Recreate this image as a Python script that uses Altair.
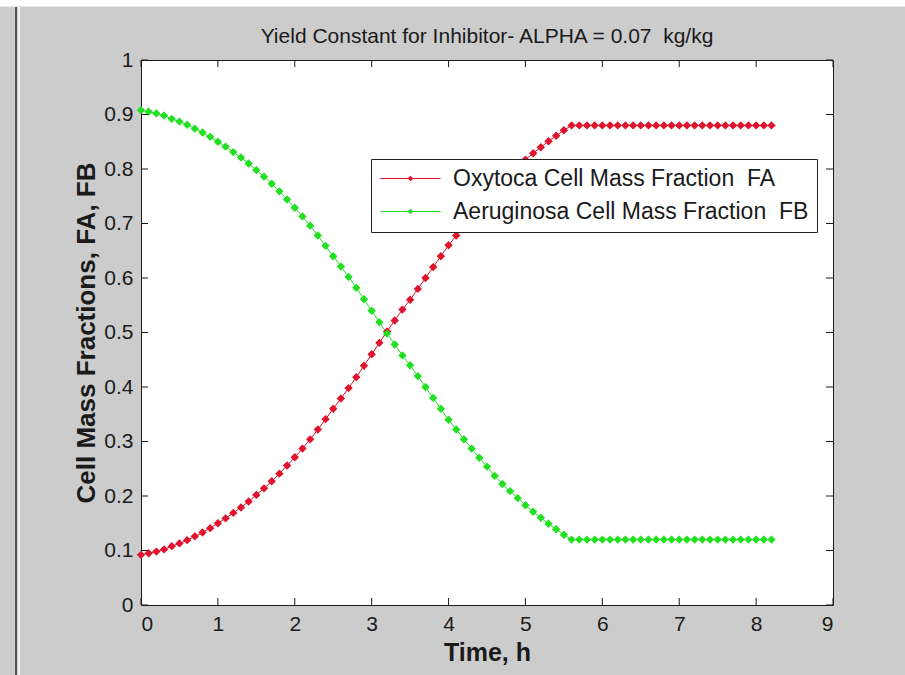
import altair as alt
import pandas as pd

# Time grid (h)
time_h = [
    0.0, 0.1, 0.2, 0.3, 0.4, 0.5, 0.6, 0.7, 0.8, 0.9,
    1.0, 1.1, 1.2, 1.3, 1.4, 1.5, 1.6, 1.7, 1.8, 1.9,
    2.0, 2.1, 2.2, 2.3, 2.4, 2.5, 2.6, 2.7, 2.8, 2.9,
    3.0, 3.1, 3.2, 3.3, 3.4, 3.5, 3.6, 3.7, 3.8, 3.9,
    4.0, 4.1, 4.2, 4.3, 4.4, 4.5, 4.6, 4.7, 4.8, 4.9,
    5.0, 5.1, 5.2, 5.3, 5.4, 5.5, 5.6, 5.7, 5.8, 5.9,
    6.0, 6.1, 6.2, 6.3, 6.4, 6.5, 6.6, 6.7, 6.8, 6.9,
    7.0, 7.1, 7.2, 7.3, 7.4, 7.5, 7.6, 7.7, 7.8, 7.9,
    8.0, 8.1, 8.2,
]

# Oxytoca cell mass fraction FA
fa_oxytoca = [
    0.092, 0.095, 0.098, 0.102, 0.108, 0.113, 0.119, 0.126, 0.133, 0.141,
    0.150, 0.159, 0.169, 0.179, 0.190, 0.202, 0.214, 0.227, 0.241, 0.256,
    0.271, 0.287, 0.304, 0.322, 0.341, 0.360, 0.379, 0.398, 0.418, 0.439,
    0.460, 0.481, 0.502, 0.522, 0.542, 0.560, 0.580, 0.600, 0.620, 0.640,
    0.660, 0.678, 0.696, 0.713, 0.730, 0.746, 0.763, 0.778, 0.791, 0.804,
    0.817, 0.829, 0.840, 0.851, 0.861, 0.871, 0.880, 0.880, 0.880, 0.880,
    0.880, 0.880, 0.880, 0.880, 0.880, 0.880, 0.880, 0.880, 0.880, 0.880,
    0.880, 0.880, 0.880, 0.880, 0.880, 0.880, 0.880, 0.880, 0.880, 0.880,
    0.880, 0.880, 0.880,
]

# Aeruginosa cell mass fraction FB
fb_aeruginosa = [
    0.908, 0.905, 0.902, 0.898, 0.892, 0.887, 0.881, 0.874, 0.867, 0.859,
    0.850, 0.841, 0.831, 0.821, 0.810, 0.798, 0.786, 0.773, 0.759, 0.744,
    0.729, 0.713, 0.696, 0.678, 0.659, 0.640, 0.621, 0.602, 0.582, 0.561,
    0.540, 0.519, 0.498, 0.478, 0.458, 0.440, 0.420, 0.400, 0.380, 0.360,
    0.340, 0.322, 0.304, 0.287, 0.270, 0.254, 0.237, 0.222, 0.209, 0.196,
    0.183, 0.171, 0.160, 0.149, 0.139, 0.129, 0.120, 0.120, 0.120, 0.120,
    0.120, 0.120, 0.120, 0.120, 0.120, 0.120, 0.120, 0.120, 0.120, 0.120,
    0.120, 0.120, 0.120, 0.120, 0.120, 0.120, 0.120, 0.120, 0.120, 0.120,
    0.120, 0.120, 0.120,
]

x_ticks = [0, 1, 2, 3, 4, 5, 6, 7, 8, 9]
y_ticks = [0, 0.1, 0.2, 0.3, 0.4, 0.5, 0.6, 0.7, 0.8, 0.9, 1]

series_names = [
    "Oxytoca Cell Mass Fraction\u00a0 FA",
    "Aeruginosa Cell Mass Fraction\u00a0 FB",
]
series_colors = ["#e0122c", "#20e020"]
plot_title = "Yield Constant for Inhibitor- ALPHA = 0.07\u00a0 kg/kg"

FONT = "Liberation Sans"
INK = "#1a1a1a"
W, H = 692, 545
TICK = 7

n = len(time_h)
df = pd.DataFrame({
    "t": time_h + time_h,
    "f": fa_oxytoca + fb_aeruginosa,
    "series": [series_names[0]] * n + [series_names[1]] * n,
})

x_scale = alt.Scale(domain=[0, 9], nice=False, zero=False)
y_scale = alt.Scale(domain=[0, 1], nice=False, zero=False)
color_scale = alt.Scale(domain=series_names, range=series_colors)

x_axis = alt.Axis(
    values=x_ticks, title="Time, h", format="~g",
    ticks=False, domain=False, grid=False,
    labelFont=FONT, labelFontSize=21, labelColor=INK, labelPadding=8,
    titleFont=FONT, titleFontSize=25, titleFontWeight="bold", titleColor=INK,
    titleX=W / 2, titleY=47, titleBaseline="middle", titleAlign="center",
)
y_axis = alt.Axis(
    values=y_ticks, title="Cell Mass Fractions, FA, FB", format="~g",
    ticks=False, domain=False, grid=False,
    labelFont=FONT, labelFontSize=21, labelColor=INK, labelPadding=8,
    titleFont=FONT, titleFontSize=26, titleFontWeight="bold", titleColor=INK,
    titleX=-55, titleY=H / 2, titleAngle=270, titleBaseline="middle",
    titleAlign="center",
)

# Legend key: a 60 px line with a small marker at its middle
legend = alt.Legend(
    title=None, orient="none", legendX=230, legendY=99,
    symbolType="M-1,0H5M1.8,0L2,-0.2L2.2,0L2,0.2Z",
    symbolSize=400, symbolStrokeWidth=1.2,
    labelFont=FONT, labelFontSize=23, labelColor=INK, labelLimit=600,
    labelOffset=51, rowPadding=9, padding=8,
    fillColor="white", strokeColor="#222",
)

lines = alt.Chart(df).mark_line(strokeWidth=1).encode(
    x=alt.X("t:Q", scale=x_scale, axis=x_axis),
    y=alt.Y("f:Q", scale=y_scale, axis=y_axis),
    color=alt.Color("series:N", scale=color_scale, legend=legend),
)

points = alt.Chart(df).mark_point(
    shape="diamond", filled=True, size=70, opacity=1
).encode(
    x=alt.X("t:Q", scale=x_scale),
    y=alt.Y("f:Q", scale=y_scale),
    color=alt.Color("series:N", scale=color_scale, legend=None),
)

# Inward tick marks on all four sides of the box
xt = pd.DataFrame({"t": x_ticks})
yt = pd.DataFrame({"f": y_ticks})
tick_style = dict(color=INK, strokeWidth=1)
ticks_bottom = alt.Chart(xt).mark_rule(**tick_style).encode(
    x=alt.X("t:Q", scale=x_scale), y=alt.value(H), y2=alt.value(H - TICK))
ticks_top = alt.Chart(xt).mark_rule(**tick_style).encode(
    x=alt.X("t:Q", scale=x_scale), y=alt.value(0), y2=alt.value(TICK))
ticks_left = alt.Chart(yt).mark_rule(**tick_style).encode(
    y=alt.Y("f:Q", scale=y_scale), x=alt.value(0), x2=alt.value(TICK))
ticks_right = alt.Chart(yt).mark_rule(**tick_style).encode(
    y=alt.Y("f:Q", scale=y_scale), x=alt.value(W), x2=alt.value(W - TICK))

# Title centred over the axes
title_mark = alt.Chart(pd.DataFrame({"label": [plot_title]})).mark_text(
    font=FONT, fontSize=21, color=INK, align="center", baseline="alphabetic"
).encode(x=alt.value(W / 2), y=alt.value(-17), text="label:N")

# Window frame: white strip along the top and a sunken divider on the left
frame_df = pd.DataFrame({"k": [0]})
top_strip = alt.Chart(frame_df).mark_rule(color="white", strokeWidth=7).encode(
    x=alt.value(-141), x2=alt.value(764), y=alt.value(-57))
divider_dark = alt.Chart(frame_df).mark_rule(color="#555555", strokeWidth=2).encode(
    x=alt.value(-125), y=alt.value(-53), y2=alt.value(615))
divider_light = alt.Chart(frame_df).mark_rule(color="#f4f4f4", strokeWidth=2).encode(
    x=alt.value(-122), y=alt.value(-53), y2=alt.value(615))

chart = alt.layer(
    top_strip, divider_dark, divider_light, title_mark,
    lines, points,
    ticks_bottom, ticks_top, ticks_left, ticks_right,
).properties(
    width=W, height=H,
    autosize=alt.AutoSizeParams(type="none"),
    padding={"left": 141, "top": 60, "right": 72, "bottom": 70},
    background="#cccccc",
).configure_view(
    fill="white", stroke=INK, strokeWidth=1,
)

chart.save("out.html", embed_options={"renderer": "svg", "actions": False})
